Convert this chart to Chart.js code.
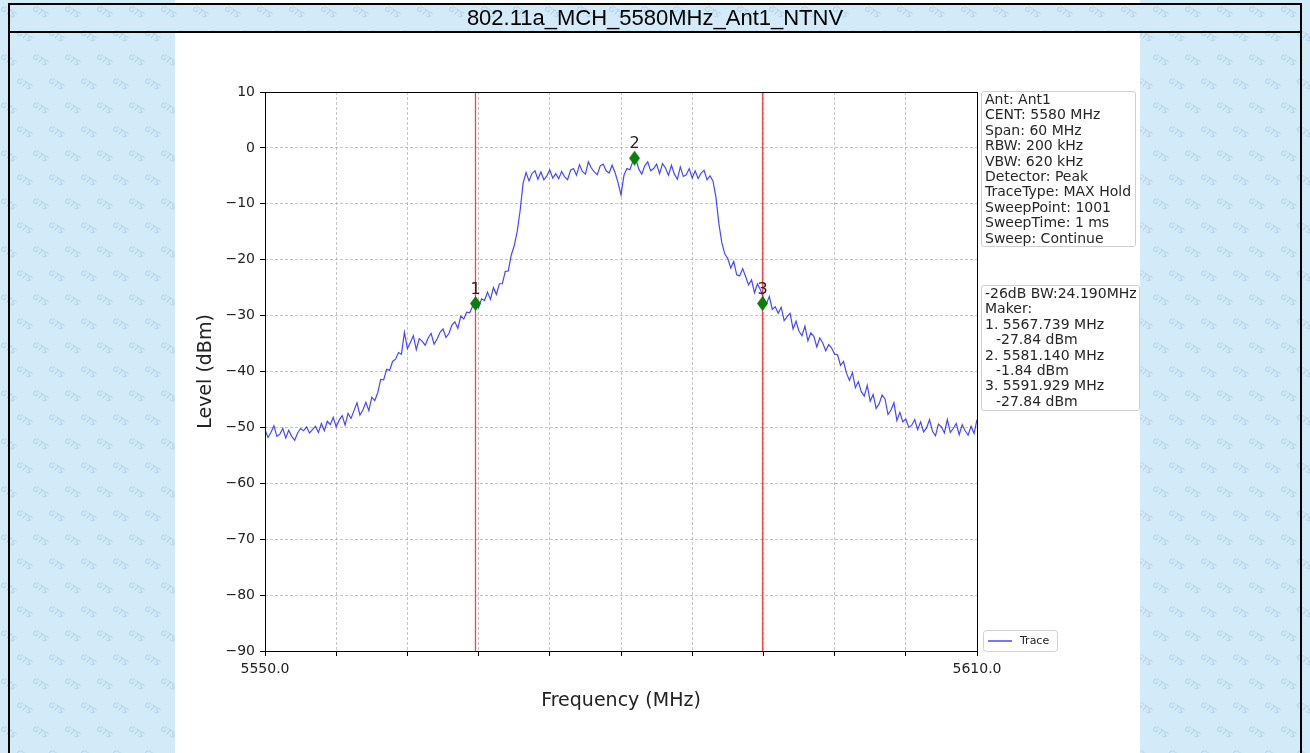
<!DOCTYPE html>
<html>
<head>
<meta charset="utf-8">
<script src="https://cdn.jsdelivr.net/npm/chart.js@4.4.0/dist/chart.umd.min.js"></script>
<style>
  html, body { margin: 0; padding: 0; }
  body { width: 1310px; height: 753px; overflow: hidden; position: relative; background: #d3ebf8; }
  #wm { position: absolute; left: 0; top: 0; }
  .bar { position: absolute; background: #000; }
  #title { position: absolute; left: 10px; top: 5px; width: 1290px; height: 26px; line-height: 26px;
           text-align: center; font-family: "Liberation Sans", Arial, sans-serif; font-size: 22px; color: #000; }
  #panel { position: absolute; left: 175px; top: 33px; width: 965px; height: 720px; background: #fff; }
  #topStrip { position: absolute; left: 175px; top: 0; width: 965px; height: 3px; background: #fff; }
  .box { position: absolute; background: #fff; border: 1px solid #cfcfcf; border-radius: 3px;
         font-family: "DejaVu Sans", sans-serif; font-size: 14px; line-height: 15.4px; color: #262626;
         padding: 0 0 0 3px; box-sizing: border-box; white-space: pre; }
  .box .ind { padding-left: 11px; }
</style>
</head>
<body>
<canvas id="wm" width="1310" height="753"></canvas>
<div id="topStrip"></div>
<div class="bar" style="left:8px; top:3px; width:1294px; height:2px;"></div>
<div class="bar" style="left:8px; top:31px; width:1294px; height:2px;"></div>
<div class="bar" style="left:8px; top:3px; width:2px; height:750px;"></div>
<div class="bar" style="left:1300px; top:3px; width:2px; height:750px;"></div>
<div id="title"></div>
<div id="panel">
  <canvas id="myChart" width="965" height="720"></canvas>
  <div class="box" id="setBox" style="left:806px; top:58px; width:155px; height:156px;"></div>
  <div class="box" id="bwBox" style="left:806px; top:252px; width:159px; height:126px;"></div>
</div>
<script>
// sweep: 5550 .. 5610 MHz
const chartTitle = '802.11a_MCH_5580MHz_Ant1_NTNV';
const sweepStart = 5550;
const sweepStep = 0.25;
const traceLevel = [
  -50.4, -51.8, -50.9, -49.7, -51.6, -51.2, -50.2, -51.9, -50.5, -51.6,
  -52.3, -51.0, -50.2, -50.6, -49.9, -51.0, -50.4, -49.8, -50.9, -49.3,
  -50.6, -48.9, -49.5, -48.2, -49.9, -48.7, -47.9, -49.6, -47.5, -48.4,
  -47.0, -45.6, -47.8, -46.9, -45.5, -47.0, -44.6, -45.2, -43.8, -41.4,
  -41.5, -39.6, -39.8, -38.2, -37.8, -36.6, -36.9, -33.0, -35.9, -34.8,
  -33.6, -36.1, -34.1, -34.6, -35.3, -34.0, -33.2, -35.1, -34.2, -33.0,
  -32.4, -33.9, -33.2, -31.7, -31.1, -32.3, -30.1, -30.6, -29.4, -29.5,
  -28.3, -28.1, -28.6, -27.0, -27.3, -25.8, -27.1, -25.0, -26.2, -24.3,
  -24.3, -22.1, -22.0, -19.2, -17.5, -15.0, -11.2, -6.3, -4.4, -5.9,
  -4.6, -4.1, -5.6, -4.3, -5.7, -5.0, -3.9, -5.4, -4.6, -5.5,
  -4.2, -5.2, -5.7, -4.0, -3.7, -4.9, -3.0, -4.2, -4.7, -2.5,
  -3.6, -4.3, -4.8, -3.2, -2.9, -4.1, -4.5, -3.1, -4.4, -6.2,
  -8.4, -4.9, -3.7, -3.9, -2.4, -2.0, -3.8, -4.7, -3.2, -2.5,
  -4.1, -3.7, -2.9, -4.6, -2.8, -3.6, -4.9, -3.1, -4.7, -5.6,
  -3.4, -5.1, -4.8, -3.7, -5.4, -4.1, -5.5, -4.5, -4.0, -5.7,
  -5.0, -5.9, -8.8, -13.6, -17.0, -19.0, -19.8, -21.5, -20.3, -22.7,
  -22.9, -21.6, -23.0, -24.5, -23.6, -25.9, -24.3, -25.4, -26.8, -27.9,
  -26.6, -28.9, -28.4, -29.6, -28.5, -30.9, -30.2, -29.6, -32.4, -31.0,
  -32.8, -33.6, -31.9, -34.5, -33.1, -33.7, -35.6, -34.0, -34.9, -36.3,
  -35.2, -35.8, -36.9, -37.0, -38.9, -38.2, -40.3, -41.6, -40.2, -42.9,
  -41.8, -43.6, -44.4, -42.5, -45.3, -44.1, -46.6, -45.8, -44.2, -44.9,
  -47.7, -46.9, -45.6, -48.8, -47.3, -49.0, -48.5, -50.0, -49.6, -48.6,
  -50.4, -49.0, -50.8, -50.1, -48.6, -50.7, -51.5, -49.4, -49.9, -51.0,
  -48.6, -50.9, -50.2, -49.3, -51.3, -49.5, -50.6, -51.4, -49.8, -51.1,
  -48.6
];
const markerNames = ['1', '2', '3'];
const markerFreq = [5567.739, 5581.140, 5591.929];
const markerLevel = [-27.84, -1.84, -27.84];
const bwEdges = [5567.739, 5591.929];
const xTickStep = 6;
const yTickStep = 10;
const settingLines = [
  'Ant: Ant1', 'CENT: 5580 MHz', 'Span: 60 MHz', 'RBW: 200 kHz', 'VBW: 620 kHz',
  'Detector: Peak', 'TraceType: MAX Hold', 'SweepPoint: 1001', 'SweepTime: 1 ms', 'Sweep: Continue'
];

document.getElementById('title').textContent = chartTitle;

// background watermark
(function () {
  const c = document.getElementById('wm').getContext('2d');
  c.fillStyle = '#d3ebf8';
  c.fillRect(0, 0, 1310, 753);
  c.font = 'italic 8px "DejaVu Sans"';
  c.fillStyle = 'rgba(120,170,205,0.45)';
  for (let y = 10, r = 0; y < 770; y += 24, r++) {
    for (let x = (r % 2) * 16; x < 1330; x += 32) {
      c.save();
      c.translate(x, y);
      c.rotate(0.55);
      c.fillText('GTS', 0, 0);
      c.restore();
    }
  }
})();

// info boxes
function fillBox(id, lines) {
  const el = document.getElementById(id);
  lines.forEach(l => {
    const d = document.createElement('div');
    if (l.indent) d.className = 'ind';
    d.textContent = l.text;
    el.appendChild(d);
  });
}
fillBox('setBox', settingLines.map(t => ({ text: t })));
const bwLines = [{ text: '-26dB BW:' + (bwEdges[1] - bwEdges[0]).toFixed(3) + 'MHz' }, { text: 'Maker:' }];
markerFreq.forEach((f, i) => {
  bwLines.push({ text: markerNames[i] + '. ' + f.toFixed(3) + ' MHz' });
  bwLines.push({ text: markerLevel[i].toFixed(2) + ' dBm', indent: true });
});
fillBox('bwBox', bwLines);

const tracePoints = traceLevel.map((v, i) => ({ x: sweepStart + i * sweepStep, y: v }));
const xMin = sweepStart;
const xMax = sweepStart + (traceLevel.length - 1) * sweepStep;
const yMin = -90, yMax = 10;

// thin diamond marker
function thinDiamond(w, h, color) {
  const c = document.createElement('canvas');
  c.width = w; c.height = h;
  const g = c.getContext('2d');
  g.fillStyle = color;
  g.beginPath();
  g.moveTo(w / 2, 0); g.lineTo(w, h / 2); g.lineTo(w / 2, h); g.lineTo(0, h / 2);
  g.closePath();
  g.fill();
  return c;
}

const framePlugin = {
  id: 'frame',
  afterDatasetsDraw(chart) {
    const { ctx, chartArea: a } = chart;
    ctx.save();
    ctx.strokeStyle = '#000';
    ctx.lineWidth = 1;
    ctx.strokeRect(Math.round(a.left) + 0.5, Math.round(a.top) + 0.5,
                   Math.round(a.right - a.left), Math.round(a.bottom - a.top));

    // marker numbers
    const meta = chart.getDatasetMeta(0);
    ctx.fillStyle = '#222';
    ctx.font = '16px "DejaVu Sans"';
    ctx.textAlign = 'center';
    ctx.textBaseline = 'alphabetic';
    meta.data.forEach((p, i) => ctx.fillText(markerNames[i], p.x, p.y - 10));

    // trace legend
    const ds = chart.data.datasets.find(d => d.label === 'Trace');
    const bx = a.right + 6, by = a.bottom - 21, bw = 74, bh = 21;
    ctx.fillStyle = '#fff';
    ctx.strokeStyle = '#d0d0d0';
    ctx.beginPath();
    ctx.roundRect(bx + 0.5, by + 0.5, bw, bh, 3);
    ctx.fill();
    ctx.stroke();
    ctx.strokeStyle = ds.borderColor;
    ctx.lineWidth = 1.5;
    ctx.beginPath();
    ctx.moveTo(bx + 5, by + 11);
    ctx.lineTo(bx + 29, by + 11);
    ctx.stroke();
    ctx.fillStyle = '#222';
    ctx.font = '11px "DejaVu Sans"';
    ctx.textAlign = 'left';
    ctx.textBaseline = 'middle';
    ctx.fillText(ds.label, bx + 37, by + 11);
    ctx.restore();
  }
};

const edgeSets = bwEdges.map(f => ({
  label: 'edge',
  data: [{ x: f, y: yMin }, { x: f, y: yMax }],
  borderColor: 'rgba(255,0,0,0.75)',
  borderWidth: 1.3,
  pointRadius: 0,
  order: 1
}));

const ctx = document.getElementById('myChart').getContext('2d');
const myChart = new Chart(ctx, {
  type: 'line',
  data: {
    datasets: [
      {
        label: 'Marker',
        type: 'scatter',
        data: markerFreq.map((f, i) => ({ x: f, y: markerLevel[i] })),
        pointStyle: thinDiamond(11, 15, '#0a800a'),
        pointRadius: 7,
        order: 0
      },
      ...edgeSets,
      {
        label: 'Trace',
        data: tracePoints,
        borderColor: 'rgba(0,0,255,0.72)',
        borderWidth: 1.2,
        pointRadius: 0,
        tension: 0,
        order: 2
      }
    ]
  },
  options: {
    responsive: false,
    animation: false,
    layout: { padding: { left: 16, top: 59, right: 163, bottom: 37 } },
    plugins: { legend: { display: false }, tooltip: { enabled: false } },
    scales: {
      x: {
        type: 'linear',
        min: xMin,
        max: xMax,
        afterFit: s => { s.height = 65; },
        ticks: {
          stepSize: xTickStep,
          autoSkip: false,
          maxRotation: 0,
          padding: 5,
          color: '#222',
          font: { family: 'DejaVu Sans', size: 14 },
          callback: (v, i, t) => (i === 0 || i === t.length - 1) ? v.toFixed(1) : ''
        },
        grid: { color: 'rgba(150,150,150,0.55)', tickColor: '#000', tickLength: 5, lineWidth: 1 },
        border: { display: false, dash: [3, 2] },
        title: { display: true, text: 'Frequency (MHz)', color: '#222', font: { family: 'DejaVu Sans', size: 19 } }
      },
      y: {
        min: yMin,
        max: yMax,
        afterFit: s => { s.width = 74; },
        ticks: {
          stepSize: yTickStep,
          padding: 5,
          color: '#222',
          font: { family: 'DejaVu Sans', size: 14 },
          callback: v => String(v).replace('-', '\u2212')
        },
        grid: { color: 'rgba(150,150,150,0.55)', tickColor: '#000', tickLength: 5, lineWidth: 1 },
        border: { display: false, dash: [3, 2] },
        title: { display: true, text: 'Level (dBm)', color: '#222', font: { family: 'DejaVu Sans', size: 19 } }
      }
    }
  },
  plugins: [framePlugin]
});
</script>
</body>
</html>
